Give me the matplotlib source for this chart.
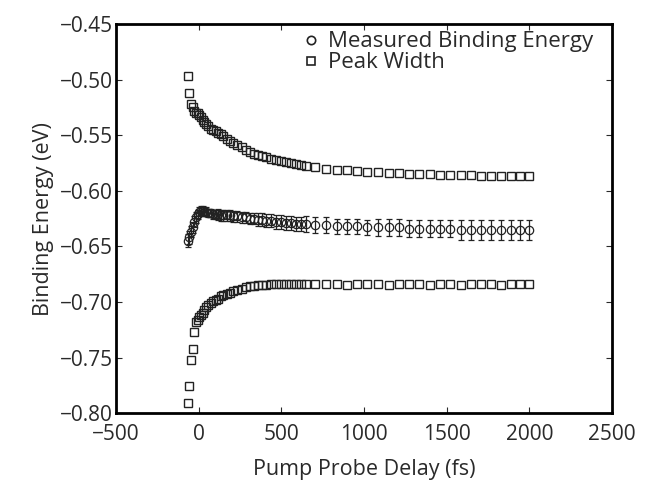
import numpy as np
import matplotlib
matplotlib.use('Agg')
import matplotlib.pyplot as plt
from matplotlib.lines import Line2D
from matplotlib.ticker import FuncFormatter

# pump-probe delay (fs)
delay = [-65, -55, -45, -35, -25, -15, -5, 5, 15, 25, 35, 45, 60, 75, 90, 105, 120,
         135, 150, 170, 190, 210, 235, 260, 285, 310, 335, 360, 385, 410, 440, 470,
         500, 530, 560, 590, 620, 650,
         705, 770, 835, 900, 960, 1020, 1085, 1150, 1210, 1270, 1335, 1400, 1460,
         1520, 1585, 1650, 1710, 1770, 1830, 1890, 1945, 2000]

# measured binding energy (eV) and its error
binding = [-0.645, -0.642, -0.637, -0.633, -0.628, -0.624, -0.621, -0.619, -0.618,
           -0.618, -0.619, -0.619, -0.620, -0.620, -0.621, -0.621, -0.621, -0.622,
           -0.622, -0.622, -0.622, -0.623, -0.623, -0.624, -0.624, -0.625, -0.625,
           -0.626, -0.626, -0.627, -0.627, -0.628, -0.628, -0.629, -0.629, -0.630,
           -0.630, -0.630,
           -0.631, -0.631, -0.632, -0.632, -0.632, -0.633, -0.633, -0.633, -0.633,
           -0.634, -0.634, -0.634, -0.634, -0.634, -0.635, -0.635, -0.635, -0.635,
           -0.635, -0.635, -0.635, -0.635]
binding_err = [0.006, 0.006, 0.005, 0.005, 0.005, 0.005, 0.004, 0.004, 0.004, 0.004,
               0.004, 0.004, 0.004, 0.004, 0.004, 0.004, 0.005, 0.005, 0.005, 0.005,
               0.005, 0.005, 0.005, 0.005, 0.005, 0.005, 0.005, 0.006, 0.006, 0.006,
               0.006, 0.006, 0.006, 0.006, 0.006, 0.006, 0.006, 0.007,
               0.007, 0.007, 0.007, 0.007, 0.007, 0.007, 0.008, 0.008, 0.008, 0.008,
               0.008, 0.008, 0.008, 0.008, 0.009, 0.009, 0.009, 0.009, 0.009, 0.009,
               0.009, 0.009]

# peak width edges (upper / lower)
width_upper = [-0.497, -0.512, -0.522, -0.525, -0.528, -0.530, -0.530, -0.532, -0.534,
               -0.536, -0.538, -0.540, -0.542, -0.544, -0.545, -0.546, -0.548, -0.549,
               -0.551, -0.553, -0.555, -0.557, -0.559, -0.561, -0.563, -0.565, -0.567,
               -0.568, -0.569, -0.570, -0.571, -0.572, -0.573, -0.574, -0.575, -0.576,
               -0.577, -0.578,
               -0.579, -0.580, -0.581, -0.581, -0.582, -0.583, -0.583, -0.584, -0.584,
               -0.585, -0.585, -0.585, -0.586, -0.586, -0.586, -0.586, -0.587, -0.587,
               -0.587, -0.587, -0.587, -0.587]
width_lower = [-0.791, -0.776, -0.752, -0.742, -0.727, -0.718, -0.716, -0.714, -0.712,
               -0.710, -0.707, -0.705, -0.703, -0.701, -0.699, -0.698, -0.697, -0.695,
               -0.694, -0.693, -0.692, -0.690, -0.689, -0.688, -0.687, -0.686, -0.686,
               -0.685, -0.685, -0.685, -0.684, -0.684, -0.684, -0.684, -0.684, -0.684,
               -0.684, -0.684,
               -0.684, -0.684, -0.684, -0.685, -0.684, -0.684, -0.684, -0.685, -0.684,
               -0.684, -0.684, -0.685, -0.684, -0.684, -0.685, -0.684, -0.684, -0.684,
               -0.685, -0.684, -0.684, -0.684]

xticks = [-500, 0, 500, 1000, 1500, 2000, 2500]
yticks = [-0.80, -0.75, -0.70, -0.65, -0.60, -0.55, -0.50, -0.45]

plt.rcParams['font.family'] = ['Open Sans', 'DejaVu Sans']
txt = '#2a2a2a'
ink = '#222222'

fig = plt.figure(figsize=(6.47, 4.82), dpi=100)
ax = fig.add_axes([0.179, 0.143, 0.767, 0.807])

ax.errorbar(delay, binding, yerr=binding_err, fmt='o', ms=6, mfc='none', mec=ink,
            mew=0.9, ecolor=ink, elinewidth=0.9, capsize=2.5, capthick=0.9)
ax.plot(delay, width_upper, 's', ms=6, mfc='none', mec=ink, mew=1.0)
ax.plot(delay, width_lower, 's', ms=6, mfc='none', mec=ink, mew=1.0)

ax.set_xlim(-500, 2500)
ax.set_ylim(-0.80, -0.45)
ax.set_xticks(xticks)
ax.set_yticks(yticks)
ax.xaxis.set_major_formatter(FuncFormatter(
    lambda v, p: ('\u2212%d' % -v) if v < 0 else '%d' % v))
ax.yaxis.set_major_formatter(FuncFormatter(
    lambda v, p: ('\u2212%.2f' % -v) if v < 0 else '%.2f' % v))

ax.tick_params(direction='in', length=4, width=0.8, top=True, right=True,
               labelsize=15, colors=txt)
ax.tick_params(axis='x', pad=8)
ax.tick_params(axis='y', pad=2)
for s in ax.spines.values():
    s.set_linewidth(2)
    s.set_color('black')

ax.set_xlabel('Pump Probe Delay (fs)', fontsize=15.5, color=txt, labelpad=10)
ax.set_ylabel('Binding Energy (eV)', fontsize=15.5, color=txt, labelpad=4)

handles = [Line2D([], [], ls='none', marker='o', ms=6, mfc='none', mec=ink, mew=1.2),
           Line2D([], [], ls='none', marker='s', ms=6, mfc='none', mec=ink, mew=1.2)]
leg = ax.legend(handles, ['Measured Binding Energy', 'Peak Width'], loc='upper right',
                frameon=False, fontsize=16, handlelength=0.6, handletextpad=0.5,
                labelspacing=0.0, borderaxespad=0.1, bbox_to_anchor=(0.985, 1.01))
for t in leg.get_texts():
    t.set_color(txt)

plt.savefig('out.png', dpi=100)
